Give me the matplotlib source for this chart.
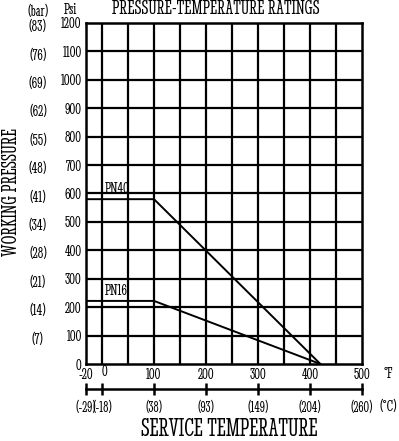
import matplotlib.pyplot as plt
import matplotlib.transforms as mtransforms
import numpy as np

# temperature (F) / pressure (psi) rating curves
pn40_temp = [-20, 100, 420]
pn40_psi = [580, 580, 0]
pn16_temp = [-20, 100, 420]
pn16_psi = [222, 222, 0]

f_ticks = [-20, 0, 100, 200, 300, 400, 500]
c_labels = ['(-29)', '(-18)', '(38)', '(93)', '(149)', '(204)', '(260)']
psi_ticks = [0, 100, 200, 300, 400, 500, 600, 700, 800, 900, 1000, 1100, 1200]
bar_labels = ['(7)', '(14)', '(21)', '(28)', '(34)', '(41)', '(48)', '(55)',
              '(62)', '(69)', '(76)', '(83)']
grid_x = [0, 50, 100, 150, 200, 250, 300, 350, 400, 450]


# the chart squeezes -20..0 a bit differently than 0..500
def fwd(x):
    x = np.asarray(x, dtype=float)
    return np.where(x < 0, x * 1.54, x)


def inv(x):
    x = np.asarray(x, dtype=float)
    return np.where(x < 0, x / 1.54, x)


plt.rcParams['font.family'] = ['Stint Ultra Condensed', 'DejaVu Serif']
fnt = dict(fontsize=12.5)

fig = plt.figure(figsize=(3.99, 4.41), dpi=100)
ax = fig.add_axes([86/399, 1 - 364/441, 276/399, 341/441])
ax.set_xscale('function', functions=(fwd, inv))

for x in grid_x:
    ax.axvline(x, color='black', lw=1.6)
for y in psi_ticks[1:-1]:
    ax.axhline(y, color='black', lw=1.6)

ax.plot(pn40_temp, pn40_psi, color='black', lw=1.4)
ax.plot(pn16_temp, pn16_psi, color='black', lw=1.4)
ax.text(6, 590, 'PN40', ha='left', va='bottom', **fnt)
ax.text(6, 232, 'PN16', ha='left', va='bottom', **fnt)

ax.set_xlim(-20, 500)
ax.set_ylim(0, 1200)
for s in ax.spines.values():
    s.set_linewidth(1.8)
ax.set_xticks(f_ticks)
ax.set_xticklabels([str(v) for v in f_ticks], **fnt)
ax.set_yticks(psi_ticks)
ax.set_yticklabels([str(v) for v in psi_ticks], **fnt)
ax.tick_params(length=0, pad=3)
# the "0" label sits a little higher in the original
zero_lbl = ax.xaxis.get_major_ticks()[1].label1
zero_lbl.set_transform(zero_lbl.get_transform() +
                       mtransforms.ScaledTranslation(2/100, 3/100, fig.dpi_scale_trans))

trans = mtransforms.blended_transform_factory(fig.transFigure, ax.transData)
for y, lab in zip(psi_ticks[1:], bar_labels):
    ax.text(38/399, y - 14, lab, transform=trans, ha='center', va='center', **fnt)
fig.text(38/399, 1 - 12/441, '(bar)', ha='center', va='center', **fnt)
fig.text(70/399, 1 - 10/441, 'Psi', ha='center', va='center', **fnt)
fig.text(388/399, 1 - 374/441, '°F', ha='center', va='center', **fnt)

ax2 = fig.add_axes([86/399, 1 - 389/441, 276/399, 0.001])
ax2.set_xscale('function', functions=(fwd, inv))
ax2.set_xlim(-20, 500)
ax2.set_yticks([])
for k in ['top', 'left', 'right']:
    ax2.spines[k].set_visible(False)
ax2.spines['bottom'].set_linewidth(1.8)
ax2.set_xticks(f_ticks)
ax2.set_xticklabels(c_labels, fontsize=12)
ax2.tick_params(axis='x', direction='inout', length=9, width=1.8, pad=4)
fig.text(388/399, 1 - 407/441, '(°C)', ha='center', va='center', **fnt)

fig.text(216/399, 1 - 9/441, 'PRESSURE-TEMPERATURE RATINGS', ha='center',
         va='center', fontsize=15)
fig.text(229/399, 1 - 436/441, 'SERVICE TEMPERATURE', ha='center',
         va='baseline', fontsize=19)
fig.text(12/399, 1 - 192/441, 'WORKING PRESSURE', ha='center', va='center',
         rotation=90, fontsize=16)

fig.savefig('out.png', dpi=100)
